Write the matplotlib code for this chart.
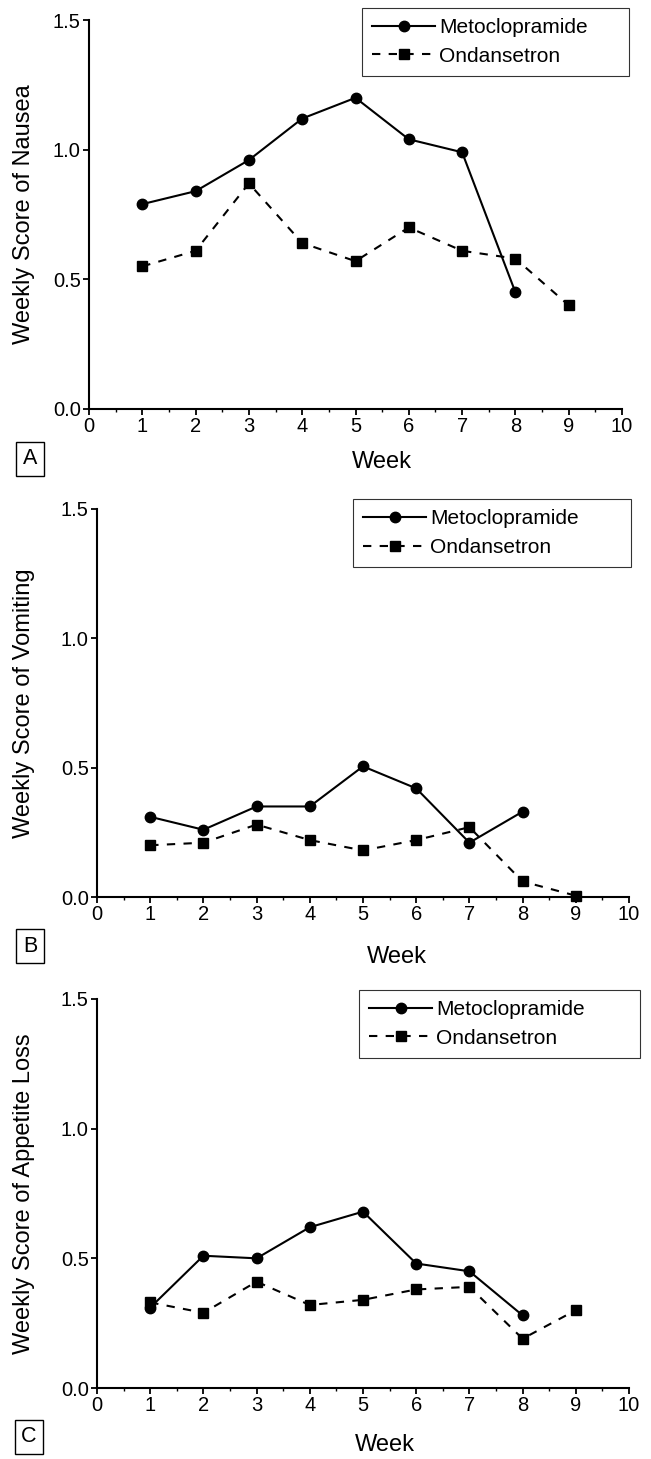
import matplotlib
matplotlib.use("Agg")
from matplotlib import pyplot as plt
from matplotlib.ticker import MultipleLocator

plt.rcParams["font.family"] = ["Liberation Sans", "DejaVu Sans"]

weeks_meto = [1, 2, 3, 4, 5, 6, 7, 8]
weeks_ond = [1, 2, 3, 4, 5, 6, 7, 8, 9]

nausea_meto = [0.79, 0.84, 0.96, 1.12, 1.20, 1.04, 0.99, 0.45]
nausea_ond = [0.55, 0.61, 0.87, 0.64, 0.57, 0.70, 0.61, 0.58, 0.40]

vomit_meto = [0.31, 0.26, 0.35, 0.35, 0.505, 0.42, 0.21, 0.33]
vomit_ond = [0.20, 0.21, 0.28, 0.22, 0.18, 0.22, 0.27, 0.06, 0.005]

appetite_meto = [0.31, 0.51, 0.50, 0.62, 0.68, 0.48, 0.45, 0.28]
appetite_ond = [0.33, 0.29, 0.41, 0.32, 0.34, 0.38, 0.39, 0.19, 0.30]

ylabels = ["Weekly Score of Nausea", "Weekly Score of Vomiting", "Weekly Score of Appetite Loss"]
letters = ["A", "B", "C"]

W, H = 651, 1459
fig = plt.figure(figsize=(W / 100, H / 100), dpi=100)

# pixel boxes: left, right, top, bottom of each axes
boxes = [(89, 622, 20, 409), (97, 629, 509, 897), (97, 629, 999, 1388)]
# legend box: left, top, right (pixels)
legend_pos = [(362, 8, 629), (353, 499, 631), (359, 990, 640)]
week_pos = [(382, 462), (397, 957), (385, 1445)]
letter_pos = [(30, 459), (30, 946), (29, 1437)]
ylabel_x = [24, 24, 24]

panels = [(nausea_meto, nausea_ond), (vomit_meto, vomit_ond), (appetite_meto, appetite_ond)]

for i, (meto, ond) in enumerate(panels):
    l, r, t, b = boxes[i]
    ax = fig.add_axes([l / W, 1 - b / H, (r - l) / W, (b - t) / H])
    ax.plot(weeks_meto, meto, color="black", lw=1.5, marker="o", ms=7.5, label="Metoclopramide")
    ax.plot(weeks_ond, ond, color="black", lw=1.5, ls=(0, (4, 4)), marker="s", ms=6.5,
            label="Ondansetron")
    ax.set_xlim(0, 10)
    ax.set_ylim(0, 1.5)
    ax.set_xticks(range(0, 11))
    ax.set_yticks([0, 0.5, 1.0, 1.5])
    ax.set_yticklabels(["0.0", "0.5", "1.0", "1.5"])
    ax.xaxis.set_minor_locator(MultipleLocator(0.5))
    ax.tick_params(which="major", direction="out", length=4, width=1.3, labelsize=14.5, pad=2)
    ax.tick_params(which="minor", direction="out", length=2, width=1)
    for s in ["top", "right"]:
        ax.spines[s].set_visible(False)
    for s in ["left", "bottom"]:
        ax.spines[s].set_linewidth(1.5)
    for line in ax.lines:
        line.set_clip_on(False)

    lx, ly, lr = legend_pos[i]
    leg = ax.legend(loc="upper left", bbox_to_anchor=(lx / W, 1 - ly / H - 0.05, (lr - lx) / W, 0.05),
                    bbox_transform=fig.transFigure, borderaxespad=0, fontsize=15, mode="expand",
                    handlelength=3.0, handletextpad=0.2, borderpad=0.5, labelspacing=0.45,
                    fancybox=False, frameon=True)
    leg.get_frame().set_edgecolor("black")
    leg.get_frame().set_linewidth(0.8)

    fig.text(ylabel_x[i] / W, 1 - ((t + b) / 2) / H, ylabels[i], rotation=90,
             ha="center", va="center", fontsize=17)
    wx, wy = week_pos[i]
    fig.text(wx / W, 1 - wy / H, "Week", ha="center", va="center", fontsize=17)
    cx, cy = letter_pos[i]
    fig.text(cx / W, 1 - cy / H, letters[i], ha="center", va="center", fontsize=15.5,
             bbox=dict(boxstyle="square,pad=0.3", fc="white", ec="black", lw=1))

fig.savefig("out.png", dpi=100)
